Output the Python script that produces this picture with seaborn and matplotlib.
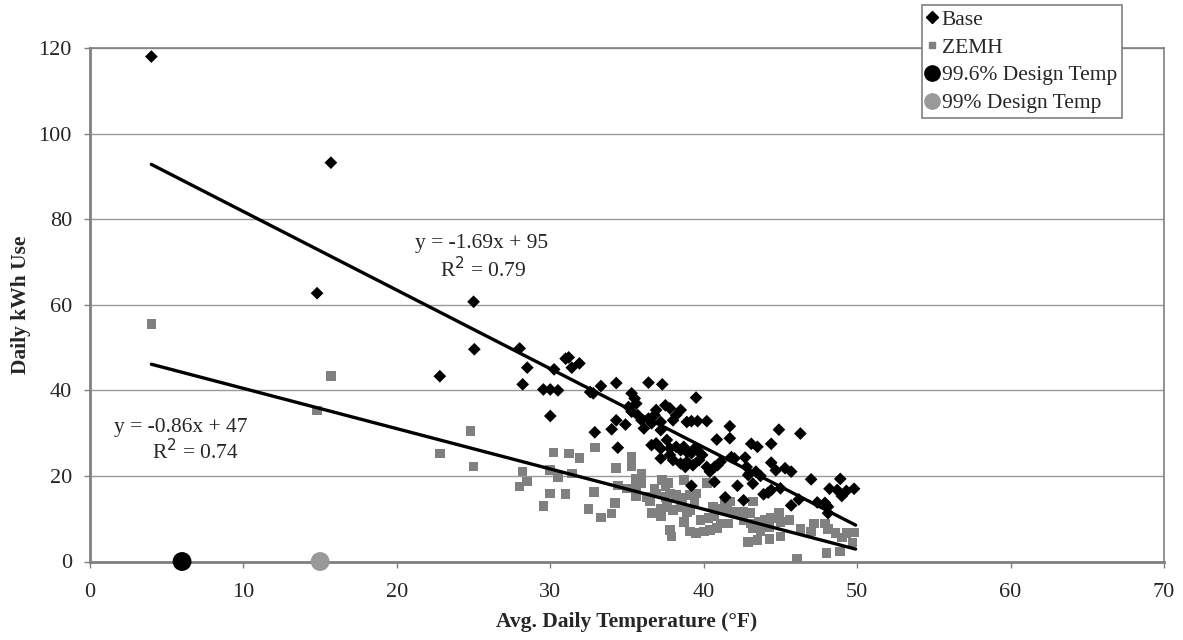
import matplotlib
matplotlib.use("Agg")
import matplotlib.pyplot as plt
import seaborn as sns
import pandas as pd
from matplotlib.lines import Line2D

# ---------------- data ----------------
base_x = [4.0, 15.7, 14.8, 25.0, 22.8, 25.05, 28.0, 28.5, 28.2, 30.25, 31.0, 31.2, 31.4, 31.9,
          29.55, 30.0, 30.5, 30.0, 32.6, 32.8, 33.3, 34.3, 32.9, 34.4, 34.0, 34.3, 34.9,
          35.3, 35.5, 35.6, 35.1, 35.3, 35.7, 35.95, 36.4, 37.3, 39.5, 36.9, 36.8, 37.5, 37.8,
          38.5, 38.2, 38.0, 36.4, 36.6, 36.1, 37.2, 37.2, 38.9, 39.2, 39.6, 40.2, 40.85,
          36.6, 36.9, 37.2, 37.6, 37.8, 38.2, 38.5, 38.7, 38.9, 39.2, 39.4, 39.6, 39.9,
          37.2, 37.8, 38.0, 38.5, 38.9, 39.3, 39.7, 40.2, 40.7, 38.8, 40.4, 40.7, 39.2,
          41.7, 41.7, 44.9, 46.3, 43.1, 43.5, 44.4, 41.8, 42.0, 42.7, 41.1, 40.9, 42.8,
          43.0, 42.9, 43.4, 43.7, 44.4, 44.7, 45.3, 45.7, 42.2, 43.2, 42.6, 43.9, 44.2,
          44.4, 45.0, 45.7, 46.2, 47.0, 48.9, 47.4, 47.9, 48.1, 48.1, 48.2, 48.7, 49.0,
          49.3, 49.8, 41.4]
base_y = [118.0, 93.2, 62.7, 60.7, 43.3, 49.6, 49.8, 45.3, 41.4, 44.9, 47.4, 47.7, 45.3, 46.3,
          40.2, 40.2, 40.0, 34.0, 39.6, 39.3, 41.0, 41.7, 30.2, 26.6, 30.9, 33.0, 32.0,
          39.3, 38.1, 36.9, 36.1, 35.0, 34.2, 33.0, 41.8, 41.4, 38.3, 35.4, 34.2, 36.5, 35.8,
          35.4, 34.2, 33.0, 33.4, 32.3, 31.1, 32.6, 30.7, 32.6, 32.8, 32.8, 32.8, 28.5,
          27.2, 27.6, 26.4, 28.4, 26.4, 26.8, 26.0, 26.8, 25.6, 25.3, 26.4, 26.0, 24.9,
          24.1, 24.9, 23.7, 22.9, 23.3, 22.5, 23.7, 22.1, 22.1, 22.1, 21.0, 18.6, 17.7,
          31.6, 28.8, 30.8, 29.9, 27.5, 26.8, 27.5, 24.4, 24.1, 24.3, 23.3, 22.5, 22.1,
          20.6, 20.2, 21.0, 20.0, 23.1, 21.3, 21.8, 21.0, 17.7, 18.2, 14.3, 15.7, 16.1,
          16.7, 17.1, 13.1, 14.5, 19.2, 19.3, 13.8, 13.7, 12.8, 11.3, 17.0, 16.7, 15.3,
          16.5, 17.0, 15.0]

zemh_x = [4.0, 15.7, 14.8, 22.8, 24.8, 25.0, 28.2, 28.5, 28.0, 30.2, 31.2, 31.9, 30.0, 30.5,
          31.4, 30.0, 31.0, 29.55, 32.9, 32.85, 32.5, 33.3, 34.0, 34.2, 34.3, 35.3, 35.3,
          34.4, 35.0, 35.95, 35.6, 35.95, 35.6, 35.6, 36.3, 36.5, 37.3, 37.7, 37.5, 38.7,
          40.2, 36.8, 36.9, 37.5, 37.8, 38.2, 38.6, 39.1, 39.5, 39.4, 37.2, 37.6, 38.0,
          38.5, 38.9, 39.1, 36.6, 37.2, 38.7, 39.8, 40.3, 40.7, 37.8, 37.9, 39.1, 39.5,
          40.0, 40.4, 40.85, 41.4, 43.2, 41.7, 44.9, 40.6, 41.1, 41.5, 42.05, 42.6, 43.0,
          41.1, 41.6, 42.6, 43.1, 43.6, 44.0, 44.4, 45.0, 45.6, 43.2, 43.7, 44.3, 45.0,
          42.9, 43.5, 44.3, 46.3, 47.0, 47.2, 47.9, 48.1, 46.1, 48.0, 48.9, 48.6, 49.0,
          49.3, 49.8, 49.7]
zemh_y = [55.5, 43.4, 35.3, 25.2, 30.5, 22.2, 21.0, 18.7, 17.5, 25.5, 25.2, 24.2, 21.4, 19.8,
          20.6, 15.9, 15.8, 13.0, 26.6, 16.2, 12.3, 10.3, 11.2, 13.6, 21.9, 24.4, 22.2,
          17.8, 17.1, 20.6, 19.4, 18.3, 17.5, 15.3, 15.1, 14.0, 19.0, 18.3, 17.5, 19.0,
          18.3, 17.1, 15.9, 15.1, 15.9, 15.5, 14.8, 15.5, 15.9, 14.0, 12.4, 12.8, 12.0,
          12.8, 11.6, 12.0, 11.3, 10.5, 9.3, 9.7, 10.1, 10.5, 7.4, 5.8, 7.0, 6.6,
          7.0, 7.4, 7.8, 13.8, 14.0, 14.0, 11.4, 12.8, 12.4, 12.0, 11.6, 11.6, 11.3,
          8.9, 8.9, 9.7, 8.9, 9.3, 9.7, 10.1, 9.3, 9.7, 7.8, 7.0, 8.1, 5.8,
          4.6, 5.0, 5.2, 7.6, 7.0, 8.9, 8.9, 7.6, 0.6, 2.0, 2.3, 6.6, 5.6,
          6.6, 6.8, 4.4]

trend_x = [4.0, 49.9]
base_trend_y = [92.8, 8.5]
zemh_trend_y = [46.1, 2.9]

design_996_x, design_996_y = [6.0], [0.0]
design_99_x, design_99_y = [15.0], [0.0]

x_ticks = [0, 10, 20, 30, 40, 50, 60, 70]
y_ticks = [0, 20, 40, 60, 80, 100, 120]

BLACK = "#000000"
GREY = "#808080"
LIGHT = "#999999"
FRAME = "#808080"
FS = 15.5

# ---------------- figure ----------------
sns.set_theme(style="white")
plt.rcParams["font.family"] = ["Liberation Serif", "DejaVu Serif"]

fig = plt.figure(figsize=(11.83, 6.4), dpi=100)
ax = fig.add_axes([90 / 1183, 1 - 561.5 / 640, (1164 - 90) / 1183, (561.5 - 48) / 640])

base_df = pd.DataFrame({"x": base_x, "y": base_y})
zemh_df = pd.DataFrame({"x": zemh_x, "y": zemh_y})

sns.scatterplot(data=zemh_df, x="x", y="y", marker="s", s=48, color=GREY,
                edgecolor="none", linewidth=0, ax=ax, zorder=3)
sns.scatterplot(data=base_df, x="x", y="y", marker="D", s=42, color=BLACK,
                edgecolor="none", linewidth=0, ax=ax, zorder=4)

sns.lineplot(x=trend_x, y=base_trend_y, color=BLACK, linewidth=2.4, ax=ax, zorder=5)
sns.lineplot(x=trend_x, y=zemh_trend_y, color=BLACK, linewidth=2.4, ax=ax, zorder=5)

sns.scatterplot(x=design_996_x, y=design_996_y, s=185, color=BLACK, edgecolor="none",
                linewidth=0, ax=ax, zorder=6, clip_on=False)
sns.scatterplot(x=design_99_x, y=design_99_y, s=185, color=LIGHT, edgecolor="none",
                linewidth=0, ax=ax, zorder=6, clip_on=False)

ax.set_xlim(0, 70)
ax.set_ylim(0, 120)
ax.set_xticks(x_ticks)
ax.set_yticks(y_ticks)
ax.set_xticklabels([str(t) for t in x_ticks], fontsize=16)
ax.set_yticklabels([str(t) for t in y_ticks], fontsize=16)
ax.tick_params(axis="both", which="major", direction="out", length=4.5, width=1,
               color=FRAME, pad=8.5, bottom=True, left=True)
ax.tick_params(axis="x", pad=11)

ax.yaxis.grid(True, color=LIGHT, linewidth=1)
ax.xaxis.grid(False)
ax.set_axisbelow(True)
for side, sp in ax.spines.items():
    sp.set_color(FRAME)
    sp.set_linewidth(1.2)
ax.spines["left"].set_linewidth(2)
ax.spines["bottom"].set_linewidth(2)

ax.set_xlabel("Avg. Daily Temperature (°F)", fontsize=FS, fontweight="bold")
ax.xaxis.set_label_coords(0.5, -(612 - 561.5) / 513.5)
ax.set_ylabel("Daily kWh Use", fontsize=FS, fontweight="bold")
ax.yaxis.set_label_coords(-(90 - 31) / 1074, 0.5)

ax.text(25.5, 74.4, "y = -1.69x + 95", fontsize=FS, ha="center", va="center")
ax.text(25.6, 68.3, "R$^2$ = 0.79", fontsize=FS, ha="center", va="center")
ax.text(5.9, 31.2, "y = -0.86x + 47", fontsize=FS, ha="center", va="center")
ax.text(6.9, 25.6, "R$^2$ = 0.74", fontsize=FS, ha="center", va="center")

handles = [
    Line2D([], [], linestyle="none", marker="D", markersize=6, color=BLACK, label="Base"),
    Line2D([], [], linestyle="none", marker="s", markersize=5, color=GREY, label="ZEMH"),
    Line2D([], [], linestyle="none", marker="o", markersize=11, color=BLACK,
           label="99.6% Design Temp"),
    Line2D([], [], linestyle="none", marker="o", markersize=11, color=LIGHT,
           label="99% Design Temp"),
]
leg = fig.legend(handles=handles, loc="upper left", bbox_to_anchor=(922 / 1183, 1 - 5 / 640),
                 bbox_transform=fig.transFigure, fontsize=FS, frameon=True, fancybox=False,
                 edgecolor=FRAME, framealpha=1, handlelength=0.5, handletextpad=0.2,
                 borderpad=0.22, labelspacing=0.36, borderaxespad=0)
leg.get_frame().set_linewidth(1.2)

fig.savefig("out.png", dpi=100)
